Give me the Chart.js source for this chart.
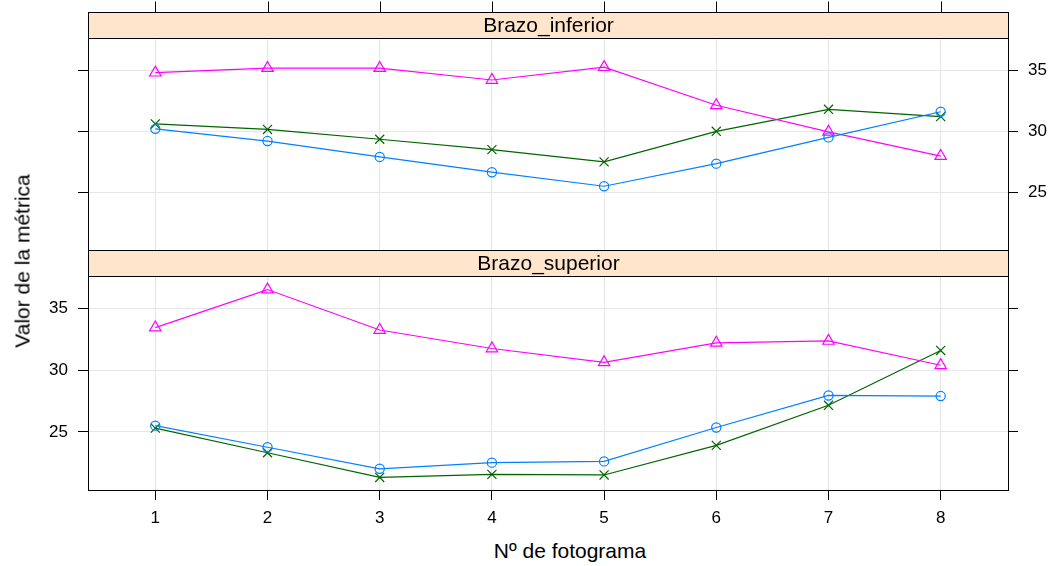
<!DOCTYPE html>
<html>
<head>
<meta charset="utf-8">
<script src="https://cdn.jsdelivr.net/npm/chart.js@4/dist/chart.umd.min.js"></script>
<style>
  body { margin: 0; background: #fff; }
  #wrap { position: relative; width: 1052px; height: 566px; overflow: hidden; font-family: "Liberation Sans", Arial, sans-serif; }
  canvas { position: absolute; left: 0; }
  #c-inf { top: 0; }
  #c-sup { top: 240px; }
  .title { position: absolute; font-size: 21px; color: #000; white-space: nowrap; line-height: 21px; }
  #xlab { left: 570px; top: 540px; transform: translateX(-50%); }
  #ylab { left: 22px; top: 261px; transform: translate(-50%, -50%) rotate(-90deg); }
</style>
</head>
<body>
<div id="wrap">
  <canvas id="c-inf" width="1052" height="252"></canvas>
  <canvas id="c-sup" width="1052" height="290"></canvas>
  <div class="title" id="xlab">Nº de fotograma</div>
  <div class="title" id="ylab">Valor de la métrica</div>
</div>
<script>
// Valores por fotograma
const frames = [1, 2, 3, 4, 5, 6, 7, 8];
const yTicks = [25, 30, 35];

// Panel Brazo_inferior
const infCircle = [30.2, 29.2, 27.9, 26.65, 25.5, 27.35, 29.5, 31.6];
const infTriangle = [34.8, 35.18, 35.18, 34.2, 35.25, 32.13, 29.95, 27.97];
const infCross = [30.6, 30.15, 29.35, 28.5, 27.5, 30.0, 31.8, 31.2];

// Panel Brazo_superior
const supCircle = [25.5, 23.75, 22.0, 22.5, 22.6, 25.35, 27.95, 27.9];
const supTriangle = [33.45, 36.54, 33.26, 31.76, 30.63, 32.22, 32.37, 30.4];
const supCross = [25.3, 23.3, 21.3, 21.55, 21.5, 23.9, 27.15, 31.6];

const FONT = '"Liberation Sans", Arial, sans-serif';
const GRID = '#e6e6e6';
const STRIP_H = 26;

// strip, panel border and the outer top ticks (lattice style)
const panelDecor = {
  id: 'panelDecor',
  afterDraw(chart, args, opts) {
    const { ctx, chartArea: a } = chart;
    const l = Math.round(a.left) + 0.5, t = Math.round(a.top) + 0.5;
    const r = Math.round(a.right) + 0.5, b = Math.round(a.bottom) + 0.5;
    ctx.save();
    ctx.lineWidth = 1;
    ctx.strokeStyle = '#000';
    ctx.strokeRect(l, t, r - l, b - t);

    const st = t - STRIP_H;
    ctx.fillStyle = '#ffe5cc';
    ctx.fillRect(l, st, r - l, STRIP_H);
    ctx.strokeRect(l, st, r - l, STRIP_H);
    ctx.fillStyle = '#000';
    ctx.font = '21px ' + FONT;
    ctx.textAlign = 'center';
    ctx.textBaseline = 'middle';
    ctx.fillText(opts.label, (l + r) / 2, st + STRIP_H / 2 + 1);

    if (opts.topTicks) {
      const x = chart.scales.x;
      x.ticks.forEach(tk => {
        const px = Math.round(x.getPixelForValue(tk.value)) + 0.5;
        ctx.beginPath();
        ctx.moveTo(px, st - 11);
        ctx.lineTo(px, st);
        ctx.stroke();
      });
    }
    ctx.restore();
  }
};

function series(circle, triangle, cross) {
  const pts = arr => frames.map((f, i) => ({ x: f, y: arr[i] }));
  return [
    { label: 'circulo', data: pts(circle), borderColor: '#0080ff', pointStyle: 'circle', pointRadius: 4.6 },
    { label: 'triangulo', data: pts(triangle), borderColor: '#ff00ff', pointStyle: 'triangle', pointRadius: 6.6 },
    { label: 'cruz', data: pts(cross), borderColor: '#006400', pointStyle: 'crossRot', pointRadius: 6.4 }
  ].map(d => Object.assign(d, {
    pointBorderColor: d.borderColor,
    pointBackgroundColor: 'rgba(0,0,0,0)',
    pointBorderWidth: 1.2,
    borderWidth: 1.2,
    tension: 0
  }));
}

function noPad(s) {
  s.paddingTop = 0; s.paddingBottom = 0; s.paddingLeft = 0; s.paddingRight = 0;
}

function yAxis(position, showLabels, width, grid) {
  return {
    type: 'linear',
    position: position,
    min: 20.28,
    max: 37.64,
    afterBuildTicks: s => { s.ticks = yTicks.map(v => ({ value: v })); },
    afterFit: s => { s.width = width; noPad(s); },
    border: { display: false },
    grid: { color: grid ? GRID : 'rgba(0,0,0,0)', drawOnChartArea: grid, tickColor: '#000', tickLength: 10, lineWidth: 1 },
    ticks: { display: showLabels, padding: 10, color: '#000', font: { family: FONT, size: 17 } }
  };
}

function makePanel(id, label, datasets, bottomAxis) {
  return new Chart(document.getElementById(id), {
    type: 'line',
    data: { datasets: datasets },
    options: {
      responsive: false,
      animation: false,
      devicePixelRatio: 1,
      layout: {
        autoPadding: false,
        padding: bottomAxis ? { top: 36, bottom: 0, left: 0, right: 0 } : { top: 38, bottom: 2, left: 0, right: 0 }
      },
      plugins: {
        legend: { display: false },
        tooltip: { enabled: false },
        panelDecor: { label: label, topTicks: !bottomAxis }
      },
      scales: {
        x: {
          type: 'linear',
          min: 0.4,
          max: 8.6,
          afterBuildTicks: s => { s.ticks = frames.map(v => ({ value: v })); },
          afterFit: s => { s.height = bottomAxis ? 40 : 0; noPad(s); },
          border: { display: false },
          grid: { color: GRID, tickColor: '#000', tickLength: 10, drawTicks: bottomAxis },
          ticks: { display: bottomAxis, padding: 8, color: '#000', font: { family: FONT, size: 17 }, callback: v => String(v) }
        },
        y: yAxis('left', bottomAxis, 88, true),
        y2: yAxis('right', !bottomAxis, 44, false)
      }
    },
    plugins: [panelDecor]
  });
}

makePanel('c-inf', 'Brazo_inferior', series(infCircle, infTriangle, infCross), false);
makePanel('c-sup', 'Brazo_superior', series(supCircle, supTriangle, supCross), true);
</script>
</body>
</html>
